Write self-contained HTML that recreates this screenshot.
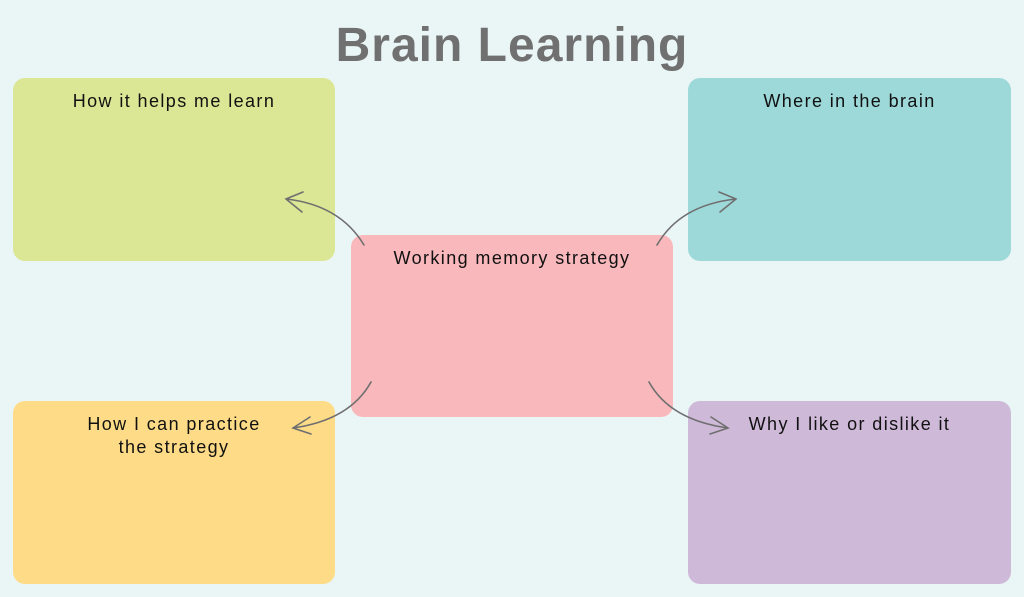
<!DOCTYPE html>
<html><head><style>
html,body{margin:0;padding:0}
body{width:1024px;height:597px;background:#eaf6f6;position:relative;overflow:hidden;font-family:"Liberation Sans",sans-serif}
.b{position:absolute;border-radius:12px;text-align:center;font-size:18px;letter-spacing:1.4px;color:#111;box-sizing:border-box;padding-top:12px;line-height:23px}
h1{position:absolute;left:0;width:1024px;top:18px;margin:0;text-align:center;font-size:48px;letter-spacing:1px;font-weight:bold;color:#707070;line-height:56px}
</style></head><body>
<h1>Brain Learning</h1>
<div class="b" style="left:13px;top:78px;width:322px;height:183px;background:#dce795">How it helps me learn</div>
<div class="b" style="left:688px;top:78px;width:323px;height:183px;background:#9ed9da">Where in the brain</div>
<div class="b" style="left:351px;top:235px;width:322px;height:182px;background:#f8b8bc">Working memory strategy</div>
<div class="b" style="left:13px;top:401px;width:322px;height:183px;background:#fedc87;padding-top:12px">How I can practice<br>the strategy</div>
<div class="b" style="left:688px;top:401px;width:323px;height:183px;background:#cfb9d9;padding-top:12px">Why I like or dislike it</div>
<svg width="1024" height="597" style="position:absolute;left:0;top:0" fill="none" stroke="#6f6f6f" stroke-width="1.6" stroke-linecap="round">
<path d="M364 245 Q340 205 286 199 M303 192 L286 199 L302 212"/>
<path d="M657 245 Q680 205 736 199 M719 192 L736 199 L720 212"/>
<path d="M371 382 Q350 420 293 428 M310 417 L293 428 L311 434"/>
<path d="M649 382 Q670 420 728 428 M711 417 L728 428 L710 434"/>
</svg>
</body></html>
